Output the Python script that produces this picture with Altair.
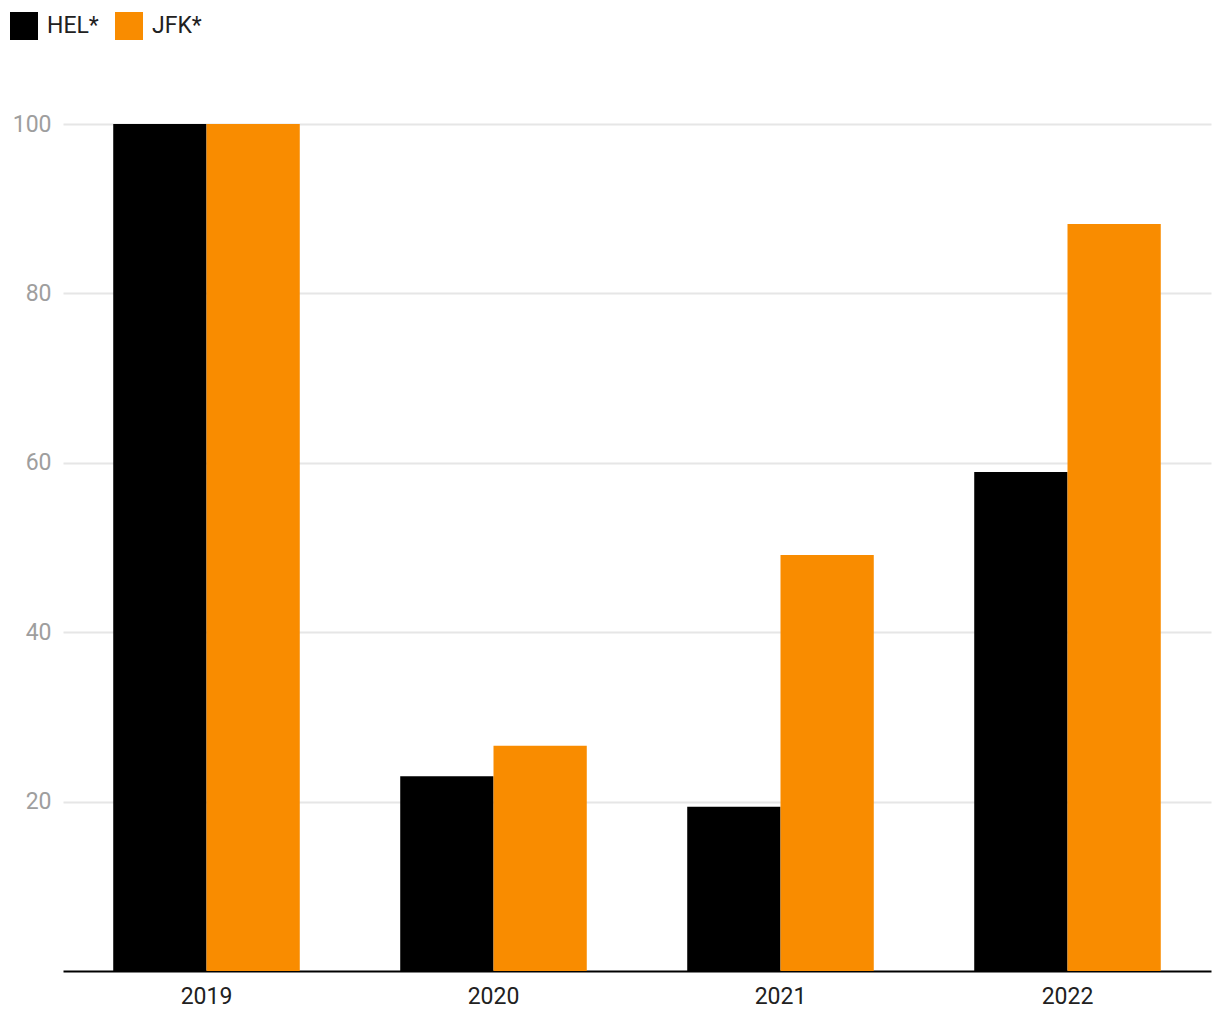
import altair as alt
import pandas as pd

years = ["2019", "2020", "2021", "2022"]
series = ["HEL*", "JFK*"]
hel = [100, 23.0, 19.4, 58.9]
jfk = [100, 26.6, 49.1, 88.2]
colors = ["#000000", "#F98C00"]

rows = []
for y, h, j in zip(years, hel, jfk):
    rows.append({"year": y, "series": series[0], "value": h})
    rows.append({"year": y, "series": series[1], "value": j})
df = pd.DataFrame(rows)

chart = alt.Chart(df).mark_bar().encode(
    x=alt.X("year:N", sort=years, title=None,
            scale=alt.Scale(paddingInner=0.35, paddingOuter=0.175),
            axis=alt.Axis(labelAngle=0, ticks=False, domainColor="#000000",
                          domainWidth=2, labelFontSize=23, labelColor="#212121",
                          labelPadding=14, labelFont="Roboto", grid=False)),
    xOffset=alt.XOffset("series:N", sort=series),
    y=alt.Y("value:Q", title=None,
            scale=alt.Scale(domain=[0, 100], nice=False),
            axis=alt.Axis(values=[20, 40, 60, 80, 100], ticks=False, domain=False,
                          labelFontSize=23, labelColor="#9E9E9E", labelPadding=12,
                          labelFont="Roboto", gridColor="#E6E6E6", gridWidth=2)),
    color=alt.Color("series:N", sort=series,
                    scale=alt.Scale(domain=series, range=colors),
                    legend=alt.Legend(title=None, orient="none", legendX=-53, legendY=-112,
                                      direction="horizontal", symbolType="square",
                                      symbolSize=784, symbolStrokeWidth=0,
                                      labelFontSize=23, labelColor="#212121",
                                      labelFont="Roboto", labelOffset=9,
                                      columnPadding=16, symbolOpacity=1)),
).properties(
    width=1148, height=847,
    autosize=alt.AutoSizeParams(type="none"),
    padding={"left": 55, "top": 116, "right": 1, "bottom": 40},
).configure_view(stroke=None)

chart.save("out.html", embed_options={"renderer": "svg", "actions": False})
